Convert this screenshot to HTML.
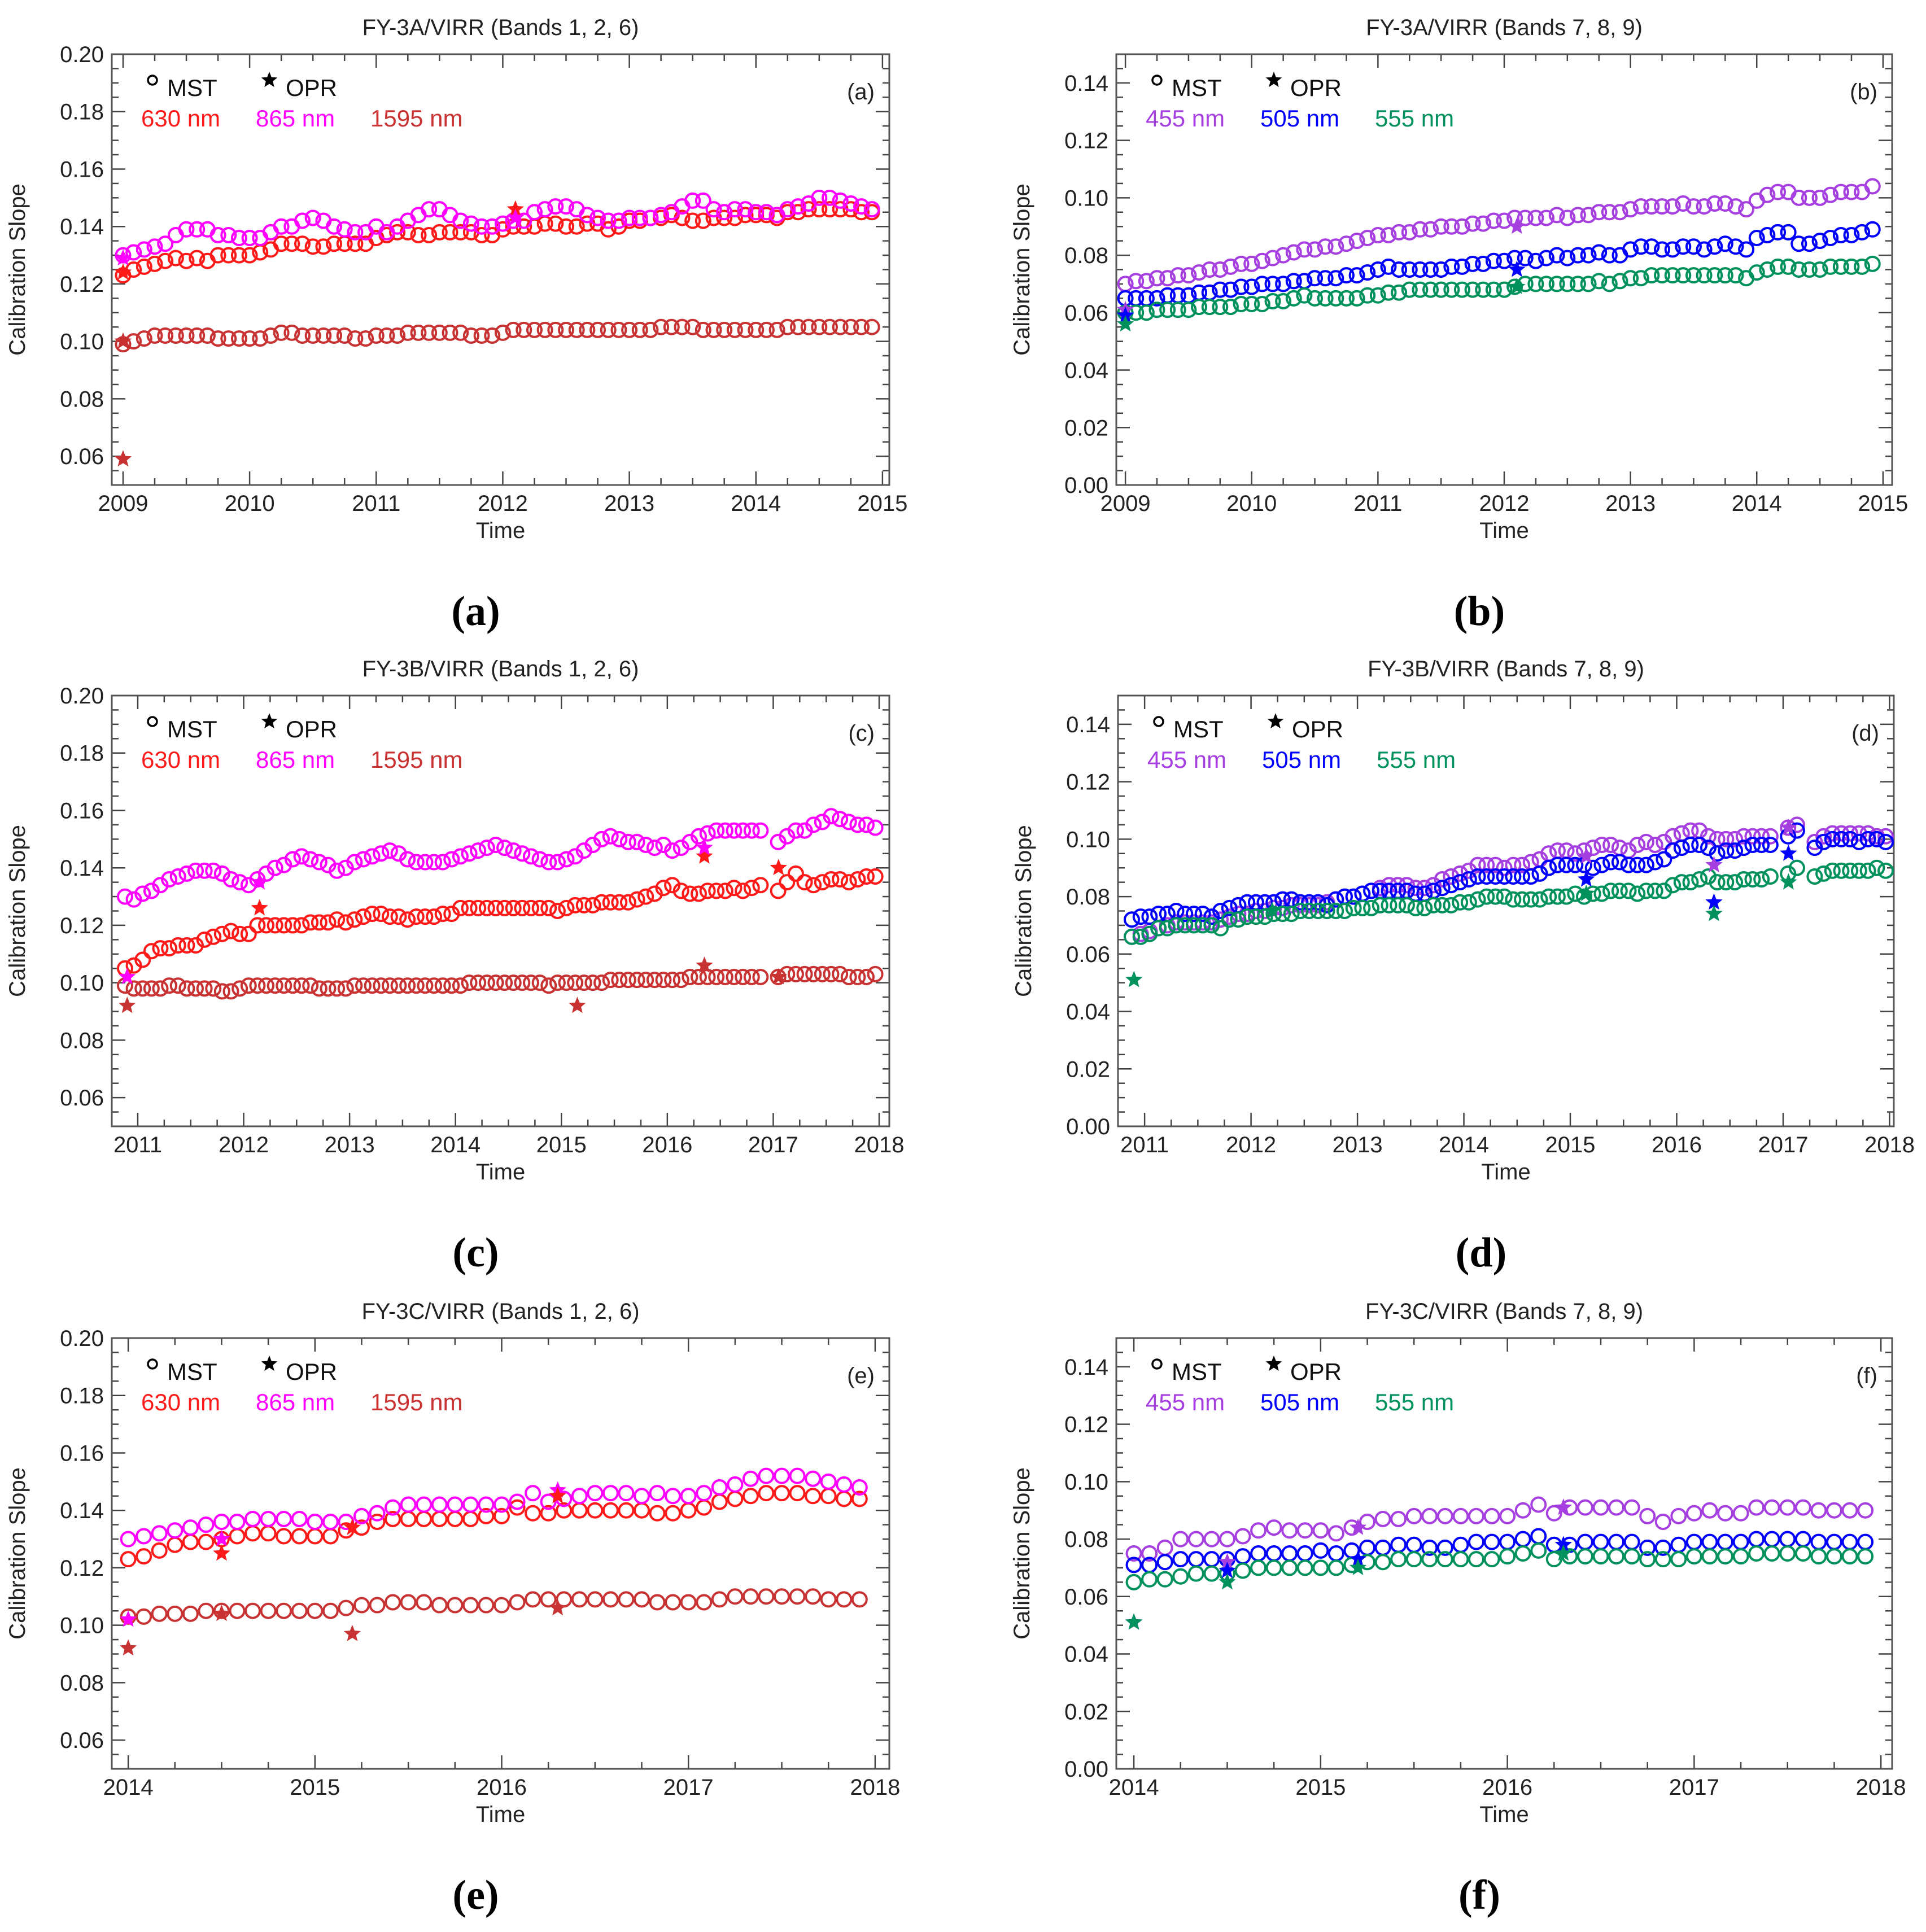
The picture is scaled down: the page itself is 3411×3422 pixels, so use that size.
<!DOCTYPE html>
<html><head><meta charset="utf-8"><style>
html,body{margin:0;padding:0;background:#fff;}
svg{display:block;font-family:"Liberation Sans",sans-serif;}
</style></head><body>
<svg id="fig" xmlns="http://www.w3.org/2000/svg" width="3411" height="3422" viewBox="0 0 3411 3422"></svg>
<script>
// ---------- DATA ----------
const aYears=[2009,2010,2011,2012,2013,2014,2015];
const cYears=[2011,2012,2013,2014,2015,2016,2017,2018];
const eYears=[2014,2015,2016,2017,2018];
const yTicksRed=[0.06,0.08,0.10,0.12,0.14,0.16,0.18,0.20];
const yTicksBlue=[0.00,0.02,0.04,0.06,0.08,0.10,0.12,0.14];

const a630=[0.123,0.125,0.126,0.127,0.128,0.129,0.128,0.129,0.128,0.130,0.130,0.130,
0.130,0.131,0.132,0.134,0.134,0.134,0.133,0.133,0.134,0.134,0.134,0.134,
0.136,0.137,0.138,0.138,0.137,0.137,0.138,0.138,0.138,0.138,0.137,0.137,
0.139,0.140,0.140,0.140,0.141,0.141,0.140,0.140,0.141,0.141,0.139,0.140,
0.142,0.142,0.143,0.143,0.144,0.143,0.142,0.142,0.143,0.143,0.143,0.144,
0.144,0.144,0.143,0.145,0.145,0.146,0.146,0.146,0.146,0.146,0.145,0.145];
const a865=[0.130,0.131,0.132,0.133,0.134,0.137,0.139,0.139,0.139,0.137,0.137,0.136,
0.136,0.136,0.138,0.140,0.140,0.142,0.143,0.142,0.140,0.139,0.138,0.138,
0.140,0.138,0.140,0.142,0.144,0.146,0.146,0.144,0.142,0.141,0.140,0.140,
0.141,0.142,0.142,0.145,0.146,0.147,0.147,0.146,0.144,0.143,0.142,0.142,
0.143,0.143,0.143,0.144,0.145,0.147,0.149,0.149,0.146,0.145,0.146,0.146,
0.145,0.145,0.144,0.146,0.147,0.148,0.150,0.150,0.149,0.148,0.147,0.146];
const a1595=[0.099,0.100,0.101,0.102,0.102,0.102,0.102,0.102,0.102,0.101,0.101,0.101,
0.101,0.101,0.102,0.103,0.103,0.102,0.102,0.102,0.102,0.102,0.101,0.101,
0.102,0.102,0.102,0.103,0.103,0.103,0.103,0.103,0.103,0.102,0.102,0.102,
0.103,0.104,0.104,0.104,0.104,0.104,0.104,0.104,0.104,0.104,0.104,0.104,
0.104,0.104,0.104,0.105,0.105,0.105,0.105,0.104,0.104,0.104,0.104,0.104,
0.104,0.104,0.104,0.105,0.105,0.105,0.105,0.105,0.105,0.105,0.105,0.105];
const aStarX=[2009.0,2009.0,2009.0,2009.0,2012.1,2012.1];
const aStarY=[0.124,0.129,0.100,0.059,0.146,0.143];
const aStarC=[0,1,2,2,0,1];

const b455=[0.070,0.071,0.071,0.072,0.072,0.073,0.073,0.074,0.075,0.075,0.076,0.077,
0.077,0.078,0.079,0.080,0.081,0.082,0.082,0.083,0.083,0.084,0.085,0.086,
0.087,0.087,0.088,0.088,0.089,0.089,0.090,0.090,0.090,0.091,0.091,0.092,
0.092,0.093,0.093,0.093,0.093,0.094,0.093,0.094,0.094,0.095,0.095,0.095,
0.096,0.097,0.097,0.097,0.097,0.098,0.097,0.097,0.098,0.098,0.097,0.096,
0.099,0.101,0.102,0.102,0.100,0.100,0.100,0.101,0.102,0.102,0.102,0.104];
const b505=[0.065,0.065,0.065,0.065,0.066,0.066,0.066,0.067,0.067,0.068,0.068,0.069,
0.069,0.070,0.070,0.070,0.071,0.071,0.072,0.072,0.072,0.073,0.073,0.074,
0.075,0.076,0.075,0.075,0.075,0.075,0.075,0.076,0.076,0.077,0.077,0.078,
0.078,0.079,0.079,0.078,0.079,0.080,0.079,0.080,0.080,0.081,0.080,0.080,
0.082,0.083,0.083,0.082,0.082,0.083,0.083,0.082,0.083,0.084,0.083,0.082,
0.086,0.087,0.088,0.088,0.084,0.084,0.085,0.086,0.087,0.087,0.088,0.089];
const b555=[0.060,0.060,0.060,0.061,0.061,0.061,0.061,0.062,0.062,0.062,0.062,0.063,
0.063,0.063,0.064,0.064,0.065,0.066,0.065,0.065,0.065,0.065,0.065,0.066,
0.066,0.067,0.067,0.068,0.068,0.068,0.068,0.068,0.068,0.068,0.068,0.068,
0.068,0.069,0.070,0.070,0.070,0.070,0.070,0.070,0.070,0.071,0.070,0.071,
0.072,0.072,0.073,0.073,0.073,0.073,0.073,0.073,0.073,0.073,0.073,0.072,
0.074,0.075,0.076,0.076,0.075,0.075,0.075,0.076,0.076,0.076,0.076,0.077];
const bStarX=[2009.0,2009.0,2009.0,2012.1,2012.1,2012.1];
const bStarY=[0.061,0.059,0.056,0.090,0.075,0.069];
const bStarC=[0,1,2,0,1,2];

const c630=[0.105,0.106,0.108,0.111,0.112,0.112,0.113,0.113,0.113,0.115,0.116,0.117,
0.118,0.117,0.117,0.120,0.120,0.120,0.120,0.120,0.120,0.121,0.121,0.121,
0.122,0.121,0.122,0.123,0.124,0.124,0.123,0.123,0.122,0.123,0.123,0.123,
0.124,0.124,0.126,0.126,0.126,0.126,0.126,0.126,0.126,0.126,0.126,0.126,
0.126,0.125,0.126,0.127,0.127,0.127,0.128,0.128,0.128,0.128,0.129,0.130,
0.131,0.133,0.134,0.132,0.131,0.131,0.132,0.132,0.132,0.133,0.132,0.133,0.134,
null,0.132,0.135,0.138,0.135,0.134,0.135,0.136,0.136,0.135,0.136,0.137,0.137];
const c865=[0.130,0.129,0.131,0.132,0.134,0.136,0.137,0.138,0.139,0.139,0.139,0.138,
0.136,0.135,0.134,0.136,0.138,0.140,0.141,0.143,0.144,0.143,0.142,0.141,
0.139,0.140,0.142,0.143,0.144,0.145,0.146,0.145,0.143,0.142,0.142,0.142,
0.142,0.143,0.144,0.145,0.146,0.147,0.148,0.147,0.146,0.145,0.144,0.143,
0.142,0.142,0.143,0.144,0.146,0.148,0.150,0.151,0.150,0.149,0.149,0.148,
0.147,0.148,0.146,0.147,0.149,0.151,0.152,0.153,0.153,0.153,0.153,0.153,0.153,
null,0.149,0.151,0.153,0.153,0.155,0.156,0.158,0.157,0.156,0.155,0.155,0.154];
const c1595=[0.099,0.098,0.098,0.098,0.098,0.099,0.099,0.098,0.098,0.098,0.098,0.097,
0.097,0.098,0.099,0.099,0.099,0.099,0.099,0.099,0.099,0.099,0.098,0.098,
0.098,0.098,0.099,0.099,0.099,0.099,0.099,0.099,0.099,0.099,0.099,0.099,
0.099,0.099,0.099,0.100,0.100,0.100,0.100,0.100,0.100,0.100,0.100,0.100,
0.099,0.100,0.100,0.100,0.100,0.100,0.100,0.101,0.101,0.101,0.101,0.101,
0.101,0.101,0.101,0.101,0.102,0.102,0.102,0.102,0.102,0.102,0.102,0.102,0.102,
null,0.102,0.103,0.103,0.103,0.103,0.103,0.103,0.103,0.102,0.102,0.102,0.103];
const cStarX=[2010.9,2010.9,2012.15,2012.15,2015.15,2016.35,2016.35,2016.35,2017.05,2017.05];
const cStarY=[0.102,0.092,0.135,0.126,0.092,0.144,0.147,0.106,0.140,0.102];
const cStarC=[1,2,1,0,2,0,1,2,0,2];

const d455=[0.066,0.067,0.068,0.069,0.070,0.071,0.071,0.071,0.071,0.071,0.072,0.073,
0.074,0.074,0.075,0.075,0.076,0.076,0.077,0.077,0.077,0.077,0.078,0.079,
0.080,0.080,0.081,0.082,0.083,0.084,0.084,0.084,0.083,0.083,0.084,0.086,
0.087,0.088,0.089,0.091,0.091,0.091,0.090,0.091,0.091,0.092,0.093,0.095,
0.096,0.096,0.095,0.096,0.097,0.098,0.098,0.097,0.096,0.098,0.099,0.098,
0.099,0.101,0.102,0.103,0.103,0.101,0.100,0.100,0.100,0.101,0.101,0.101,0.101,
null,0.104,0.105,null,0.099,0.101,0.102,0.102,0.102,0.102,0.102,0.101,0.101];
const d505=[0.072,0.073,0.073,0.074,0.074,0.075,0.074,0.074,0.074,0.073,0.075,0.076,
0.077,0.078,0.078,0.078,0.078,0.079,0.079,0.078,0.078,0.078,0.077,0.079,
0.080,0.080,0.081,0.082,0.082,0.082,0.082,0.082,0.081,0.081,0.082,0.083,
0.084,0.085,0.086,0.087,0.087,0.087,0.087,0.087,0.087,0.087,0.088,0.090,
0.091,0.091,0.091,0.091,0.090,0.091,0.092,0.092,0.091,0.091,0.091,0.092,
0.093,0.096,0.097,0.098,0.098,0.097,0.095,0.096,0.096,0.097,0.098,0.098,0.098,
null,0.101,0.103,null,0.097,0.099,0.100,0.100,0.100,0.099,0.100,0.100,0.099];
const d555=[0.066,0.066,0.067,0.069,0.069,0.070,0.070,0.070,0.070,0.070,0.069,0.072,
0.072,0.073,0.073,0.073,0.074,0.074,0.074,0.075,0.075,0.075,0.075,0.075,
0.075,0.076,0.076,0.076,0.077,0.077,0.077,0.077,0.076,0.076,0.077,0.077,
0.077,0.078,0.078,0.079,0.080,0.080,0.080,0.079,0.079,0.079,0.079,0.080,
0.080,0.080,0.081,0.080,0.081,0.081,0.082,0.082,0.082,0.081,0.082,0.082,
0.082,0.084,0.085,0.085,0.086,0.087,0.085,0.085,0.085,0.086,0.086,0.086,0.087,
null,0.088,0.090,null,0.087,0.088,0.089,0.089,0.089,0.089,0.089,0.090,0.089];
const dStarX=[2010.9,2012.2,2015.15,2015.15,2015.15,2016.35,2016.35,2016.35,2017.05,2017.05,2017.05];
const dStarY=[0.051,0.075,0.094,0.086,0.081,0.091,0.078,0.074,0.104,0.095,0.085];
const dStarC=[2,2,0,1,2,0,1,2,0,1,2];

const e630=[0.123,0.124,0.126,0.128,0.129,0.129,0.130,0.131,0.132,0.132,0.131,0.131,
0.131,0.131,0.133,0.134,0.136,0.137,0.137,0.137,0.137,0.137,0.137,0.138,
0.138,0.141,0.139,0.139,0.140,0.140,0.140,0.140,0.140,0.140,0.139,0.139,
0.140,0.141,0.143,0.144,0.145,0.146,0.146,0.146,0.145,0.145,0.144,0.144];
const e865=[0.130,0.131,0.132,0.133,0.134,0.135,0.136,0.136,0.137,0.137,0.137,0.137,
0.136,0.136,0.136,0.138,0.139,0.141,0.142,0.142,0.142,0.142,0.142,0.142,
0.142,0.143,0.146,0.143,0.144,0.145,0.146,0.146,0.146,0.145,0.146,0.145,
0.145,0.146,0.148,0.149,0.151,0.152,0.152,0.152,0.151,0.150,0.149,0.148];
const e1595=[0.103,0.103,0.104,0.104,0.104,0.105,0.105,0.105,0.105,0.105,0.105,0.105,
0.105,0.105,0.106,0.107,0.107,0.108,0.108,0.108,0.107,0.107,0.107,0.107,
0.107,0.108,0.109,0.109,0.109,0.109,0.109,0.109,0.109,0.109,0.108,0.108,
0.108,0.108,0.109,0.110,0.110,0.110,0.110,0.110,0.110,0.109,0.109,0.109];
const eStarX=[2014.0,2014.0,2014.5,2014.5,2014.5,2015.2,2015.2,2016.3,2016.3,2016.3];
const eStarY=[0.102,0.092,0.130,0.125,0.104,0.134,0.097,0.147,0.145,0.106];
const eStarC=[1,2,1,0,2,0,2,1,0,2];

const f455=[0.075,0.075,0.077,0.080,0.080,0.080,0.080,0.081,0.083,0.084,0.083,0.083,
0.083,0.082,0.084,0.086,0.087,0.087,0.088,0.088,0.088,0.088,0.088,0.088,
0.088,0.090,0.092,0.089,0.091,0.091,0.091,0.091,0.091,0.088,0.086,0.088,
0.089,0.090,0.089,0.089,0.091,0.091,0.091,0.091,0.090,0.090,0.090,0.090];
const f505=[0.071,0.071,0.072,0.073,0.073,0.073,0.073,0.074,0.075,0.075,0.075,0.075,
0.076,0.075,0.076,0.077,0.077,0.078,0.078,0.077,0.077,0.078,0.079,0.079,
0.079,0.080,0.081,0.078,0.078,0.079,0.079,0.079,0.079,0.077,0.077,0.078,
0.079,0.079,0.079,0.079,0.080,0.080,0.080,0.080,0.079,0.079,0.079,0.079];
const f555=[0.065,0.066,0.066,0.067,0.068,0.068,0.068,0.069,0.070,0.070,0.070,0.070,
0.070,0.070,0.071,0.072,0.072,0.073,0.073,0.073,0.073,0.073,0.073,0.073,
0.074,0.075,0.076,0.073,0.074,0.074,0.074,0.074,0.074,0.073,0.073,0.073,
0.074,0.074,0.074,0.074,0.075,0.075,0.075,0.075,0.074,0.074,0.074,0.074];
const fStarX=[2014.0,2014.0,2014.5,2014.5,2014.5,2015.2,2015.2,2015.2,2016.3,2016.3,2016.3];
const fStarY=[0.051,0.051,0.072,0.069,0.065,0.084,0.073,0.070,0.091,0.078,0.075];
const fStarC=[1,2,0,1,2,0,1,2,0,1,2];

const redNames=["630 nm","865 nm","1595 nm"];
const blueNames=["455 nm","505 nm","555 nm"];
const redCols=["#ff1a1a","#ff00ff","#c83232"];
const blueCols=["#a63fe0","#0000ff","#00915c"];

// ---------- DRAWING ----------
const NS="http://www.w3.org/2000/svg";
const svg=document.getElementById('fig');
function el(tag,attrs,parent,txt){const e=document.createElementNS(NS,tag);for(const k in attrs)e.setAttribute(k,attrs[k]);if(txt!==undefined)e.textContent=txt;(parent||svg).appendChild(e);return e;}
function months(start,n){const r=[];for(let i=0;i<n;i++)r.push(start+i/12);return r;}
function starPts(cx,cy,ro,ri){const p=[];for(let i=0;i<10;i++){const r=i%2?ri:ro;const a=-Math.PI/2+i*Math.PI/5;p.push((cx+r*Math.cos(a)).toFixed(1)+","+(cy+r*Math.sin(a)).toFixed(1));}return p.join(" ");}

function panel(c){
  const g=el('g',{});
  
  
  const X=v=>c.L+(v-c.x0)/(c.x1-c.x0)*(c.R-c.L);
  const Y=v=>c.B-(v-c.y0)/(c.y1-c.y0)*(c.B-c.T);
  const t=el('text',{x:(c.L+c.R)/2,y:c.T-34,'font-size':40,'text-anchor':'middle',fill:'#222'},g,c.title);
  
  const tg=el('g',{stroke:'#444','stroke-width':2.5},g);
  
  for(let v=Math.ceil(c.y0/0.005-1e-6)*0.005;v<=c.y1+1e-9;v+=0.005){
    const major=Math.abs(v/0.02-Math.round(v/0.02))<1e-6; const len=major?24:12; const y=Y(v);
    el('line',{x1:c.L,y1:y,x2:c.L+len,y2:y},tg); el('line',{x1:c.R,y1:y,x2:c.R-len,y2:y},tg);
  }
  for(let v=Math.ceil(c.x0*4)/4;v<=c.x1+1e-9;v+=0.25){
    const major=Math.abs(v-Math.round(v))<1e-6; const len=major?24:12; const x=X(v);
    el('line',{x1:x,y1:c.B,x2:x,y2:c.B-len},tg); el('line',{x1:x,y1:c.T,x2:x,y2:c.T+len},tg);
  }
  const fr=el('rect',{x:c.L,y:c.T,width:c.R-c.L,height:c.B-c.T,fill:'none',stroke:'#555','stroke-width':3},g);
  
  c.yticks.forEach(v=>{const e=el('text',{x:c.L-14,y:Y(v)+14,'font-size':40,'text-anchor':'end',fill:'#222'},g,v.toFixed(2));
    });
  c.years.forEach(v=>{const e=el('text',{x:X(v),y:c.B+46,'font-size':40,'text-anchor':'middle',fill:'#222'},g,String(v));
    });
  const xt=el('text',{x:(c.L+c.R)/2,y:c.B+94,'font-size':40,'text-anchor':'middle',fill:'#222'},g,'Time');
  
  const yx=c.L-154, yy=(c.T+c.B)/2;
  const yt=el('text',{x:yx,y:yy,'font-size':40,'text-anchor':'middle',fill:'#222',transform:`rotate(-90 ${yx} ${yy})`},g,'Calibration Slope');
  
  const lg=el('g',{},g);
  
  el('circle',{cx:c.L+72,cy:c.T+46,r:8,fill:'none',stroke:'#000','stroke-width':3.5},lg);
  el('text',{x:c.L+98,y:c.T+74,'font-size':42,fill:'#111'},lg,'MST');
  el('polygon',{points:starPts(c.L+279,c.T+46,15,6.5),fill:'#000'},lg);
  el('text',{x:c.L+308,y:c.T+74,'font-size':42,fill:'#111'},lg,'OPR');
  const lx=[52,255,458];
  c.names.forEach((n,i)=>{const e=el('text',{x:c.L+lx[i],y:c.T+128,'font-size':42,fill:c.cols[i]},lg,n);
    });
  const cl=el('text',{x:c.R-26,y:c.T+80,'font-size':40,'text-anchor':'end',fill:'#222'},g,'('+c.id+')');
  
  c.series.forEach((s,si)=>{
    const sg=el('g',{fill:'none',stroke:c.cols[si],'stroke-width':4},g);
    
    
    const xs=months(c.start,s.length);
    s.forEach((v,i)=>{ if(v===null) return;
      const m=el('circle',{cx:X(xs[i]),cy:Y(v),r:12.5},sg);
      
      
    });
  });
  const stg=el('g',{},g);
  
  c.sx.forEach((xv,i)=>{
    const p=el('polygon',{points:starPts(X(xv),Y(c.sy[i]),16,7),fill:c.cols[c.sc[i]]},stg);
    
    
  });
  const fl=el('text',{x:(c.L+c.R)/2-44,y:c.B+248,'font-size':74,'font-weight':'bold','font-family':'"Liberation Serif",serif','text-anchor':'middle',fill:'#000'},g,'('+c.id+')');
  
}

const rowT=[96,1232,2370], rowB=[859,1995,3133];
panel({id:'a',L:198,R:1575,T:rowT[0],B:rowB[0],x0:2008.911,x1:2015.054,y0:0.05,y1:0.20,years:aYears,yticks:yTicksRed,
  title:'FY-3A/VIRR (Bands 1, 2, 6)',names:redNames,cols:redCols,start:2009.0,series:[a630,a865,a1595],sx:aStarX,sy:aStarY,sc:aStarC});
panel({id:'b',L:1977,R:3351,T:rowT[0],B:rowB[0],x0:2008.928,x1:2015.072,y0:0,y1:0.15,years:aYears,yticks:yTicksBlue,
  title:'FY-3A/VIRR (Bands 7, 8, 9)',names:blueNames,cols:blueCols,start:2009.0,series:[b455,b505,b555],sx:bStarX,sy:bStarY,sc:bStarC});
panel({id:'c',L:198,R:1575,T:rowT[1],B:rowB[1],x0:2010.755,x1:2018.096,y0:0.05,y1:0.20,years:cYears,yticks:yTicksRed,
  title:'FY-3B/VIRR (Bands 1, 2, 6)',names:redNames,cols:redCols,start:2010.88,series:[c630,c865,c1595],sx:cStarX,sy:cStarY,sc:cStarC});
panel({id:'d',L:1980,R:3354,T:rowT[1],B:rowB[1],x0:2010.75,x1:2018.04,y0:0,y1:0.15,years:cYears,yticks:yTicksBlue,
  title:'FY-3B/VIRR (Bands 7, 8, 9)',names:blueNames,cols:blueCols,start:2010.88,series:[d455,d505,d555],sx:dStarX,sy:dStarY,sc:dStarC});
panel({id:'e',L:198,R:1575,T:rowT[2],B:rowB[2],x0:2013.912,x1:2018.076,y0:0.05,y1:0.20,years:eYears,yticks:yTicksRed,
  title:'FY-3C/VIRR (Bands 1, 2, 6)',names:redNames,cols:redCols,start:2014.0,series:[e630,e865,e1595],sx:eStarX,sy:eStarY,sc:eStarC});
panel({id:'f',L:1977,R:3351,T:rowT[2],B:rowB[2],x0:2013.906,x1:2018.06,y0:0,y1:0.15,years:eYears,yticks:yTicksBlue,
  title:'FY-3C/VIRR (Bands 7, 8, 9)',names:blueNames,cols:blueCols,start:2014.0,series:[f455,f505,f555],sx:fStarX,sy:fStarY,sc:fStarC});
</script>
</body></html>
